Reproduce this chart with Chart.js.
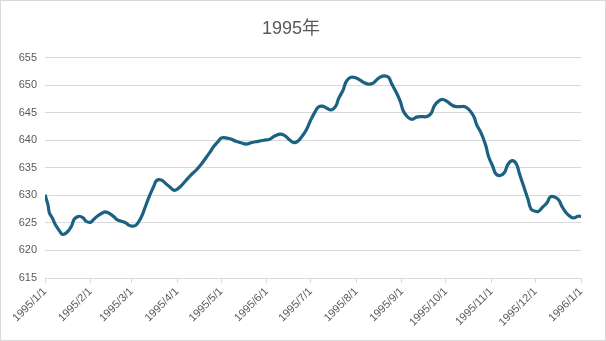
<!DOCTYPE html>
<html>
<head>
<meta charset="utf-8">
<script src="https://cdn.jsdelivr.net/npm/chart.js@4/dist/chart.umd.min.js"></script>
<style>
  html, body { margin: 0; padding: 0; background: #fff; }
  #wrap { width: 606px; height: 341px; box-sizing: border-box; border: 1px solid #d9d9d9; }
</style>
</head>
<body>
<div id="wrap"><canvas id="myChart" width="604" height="339"></canvas></div>
<script>
// days since 1995/1/1 and the value read for that day
var days = [0, 2, 3, 5, 7, 10, 12, 15, 18, 20, 23, 26, 28, 31, 33, 36, 39, 41, 44, 47, 49, 52, 55, 57, 60, 62,
    64, 66, 68, 71, 74, 76, 79, 82, 85, 88, 91, 93, 96, 99, 103, 106, 109, 112, 115, 118, 120, 124, 127, 130,
    134, 137, 141, 145, 149, 153, 156, 160, 163, 166, 169, 172, 175, 178, 181, 184, 186, 189, 192, 195, 198,
    200, 203, 205, 208, 211, 214, 217, 220, 223, 226, 228, 231, 234, 236, 239, 242, 244, 247, 250, 253, 256,
    260, 263, 265, 268, 271, 274, 277, 280, 283, 286, 289, 292, 294, 297, 300, 302, 305, 307, 310, 313, 315,
    318, 321, 323, 326, 329, 331, 334, 336, 339, 342, 344, 347, 350, 352, 355, 358, 360, 363, 365];
var values = [630.1, 628.3, 626.8, 625.9, 624.7, 623.5, 622.9, 623.3, 624.4, 625.7, 626.2, 625.9, 625.3, 625.1,
    625.6, 626.3, 626.8, 627.0, 626.7, 626.1, 625.6, 625.3, 625.0, 624.6, 624.4, 624.6,
    625.3, 626.3, 627.7, 629.8, 631.6, 632.7, 632.8, 632.2, 631.5, 630.9, 631.3, 631.8, 632.7, 633.6, 634.6,
    635.5, 636.6, 637.7, 638.9, 639.8, 640.4, 640.4, 640.2, 639.8,
    639.5, 639.3, 639.6, 639.8, 640.0, 640.2, 640.7, 641.1, 640.9, 640.2, 639.6, 639.8, 640.7, 641.9, 643.7,
    645.2, 646.0, 646.2, 645.8, 645.5, 646.2,
    647.6, 649.1, 650.6, 651.4, 651.4, 651.0, 650.5, 650.2, 650.3, 651.0, 651.4, 651.7, 651.4, 650.3, 648.8,
    647.0, 645.3, 644.2, 643.8, 644.2, 644.3,
    644.3, 644.9, 646.2, 647.1, 647.4, 647.0, 646.4, 646.1, 646.1, 646.1, 645.5, 644.3, 642.8, 641.3, 639.2,
    637.1, 635.2, 633.9, 633.6, 634.2, 635.5,
    636.3, 635.7, 634.0, 631.6, 629.2, 627.5, 627.1, 627.1, 627.9, 628.7, 629.7, 629.7, 629.1, 628.0, 626.8,
    626.1, 625.9, 626.2, 626.2];

// month starts (days since 1995/1/1) and their labels
var monthDays = [0, 31, 59, 90, 120, 151, 181, 212, 243, 273, 304, 334, 365];
var monthLabels = ["1995/1/1", "1995/2/1", "1995/3/1", "1995/4/1", "1995/5/1", "1995/6/1", "1995/7/1",
    "1995/8/1", "1995/9/1", "1995/10/1", "1995/11/1", "1995/12/1", "1996/1/1"];
var yTicks = [615, 620, 625, 630, 635, 640, 645, 650, 655];

var points = [];
for (var i = 0; i < days.length; i++) {
    points.push({ x: days[i], y: values[i] });
}

var font = "'Liberation Sans', 'Noto Sans CJK SC', sans-serif";
var ctx = document.getElementById("myChart").getContext("2d");
var myChart = new Chart(ctx, {
    type: 'line',
    data: {
        datasets: [{
            data: points,
            borderColor: "#1b6182",
            borderWidth: 3.2,
            pointRadius: 0,
            tension: 0.4,
            fill: false
        }]
    },
    options: {
        responsive: false,
        animation: false,
        layout: { padding: { left: 0, right: 24, top: 0, bottom: 0 } },
        plugins: {
            legend: { display: false },
            tooltip: { enabled: false },
            title: {
                display: true,
                text: "1995年",
                color: "#595959",
                font: { family: font, size: 18, weight: "normal" },
                padding: { top: 17, bottom: 18 }
            }
        },
        scales: {
            x: {
                type: 'linear',
                min: 0,
                max: 365,
                afterBuildTicks: function (scale) {
                    scale.ticks = monthDays.map(function (d) { return { value: d }; });
                },
                afterFit: function (scale) { scale.height = 62; },
                ticks: {
                    autoSkip: false,
                    maxRotation: 45,
                    minRotation: 45,
                    color: "#595959",
                    font: { family: font, size: 11 },
                    padding: 2,
                    callback: function (v) {
                        var k = monthDays.indexOf(v);
                        return k >= 0 ? monthLabels[k] : "";
                    }
                },
                grid: { drawOnChartArea: false, drawTicks: true, tickLength: 5, color: "#d9d9d9" },
                border: { display: true, color: "#d9d9d9" }
            },
            y: {
                min: 615,
                max: 655,
                afterBuildTicks: function (scale) {
                    scale.ticks = yTicks.map(function (v) { return { value: v }; });
                },
                afterFit: function (scale) { scale.width = 44; },
                ticks: {
                    color: "#595959",
                    font: { family: font, size: 11 },
                    padding: 8
                },
                grid: { color: "#d9d9d9", drawTicks: false },
                border: { display: false }
            }
        }
    }
});
</script>
</body>
</html>
